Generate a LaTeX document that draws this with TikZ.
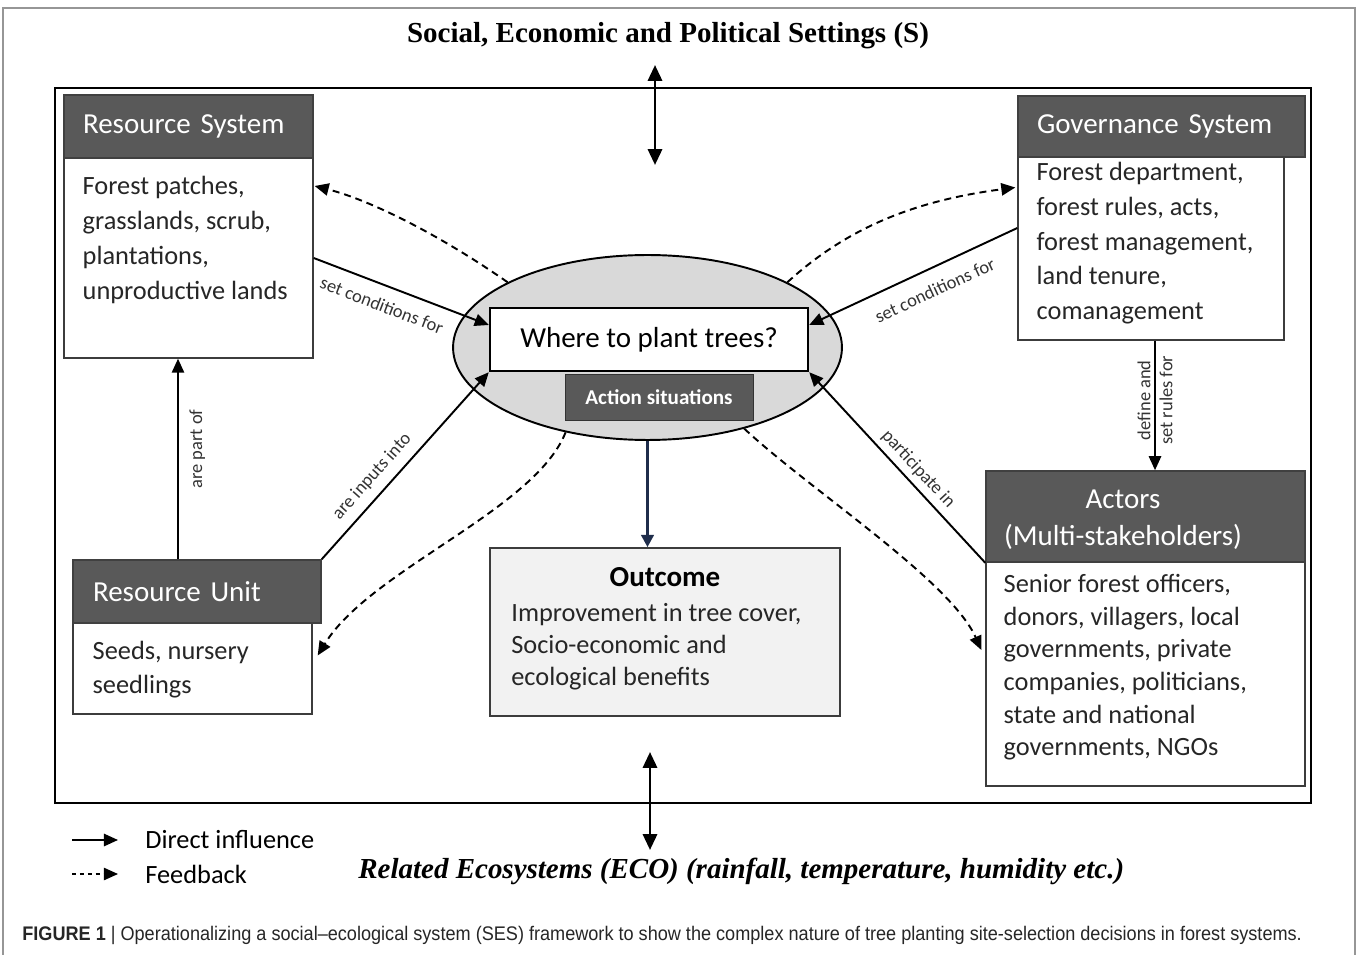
\documentclass[tikz,border=0pt]{standalone}
\usepackage{fontspec}
\setmainfont{Carlito}
\newfontfamily\serifttl{Liberation Serif}
\newfontfamily\capfont[FakeStretch=0.92]{Liberation Sans}
\usetikzlibrary{arrows.meta,shapes.geometric,positioning}

\definecolor{hdrgray}{RGB}{89,89,89}
\definecolor{ellgray}{RGB}{217,217,217}
\definecolor{outgray}{RGB}{242,242,242}
\definecolor{edgegray}{RGB}{60,60,60}
\definecolor{navy}{RGB}{31,45,75}
\definecolor{framegray}{RGB}{150,150,150}

\tikzset{
  hdr/.style={draw=black!75, fill=hdrgray, line width=0.9pt, inner sep=0pt, text=white, align=left, font=\fontsize{16.5}{20}\selectfont},
  bodybox/.style={draw=edgegray, fill=white, line width=0.8pt, inner sep=0pt},
  bodytxt/.style={anchor=north west, inner sep=0pt, align=left, text=black!85},
  infl/.style={-{Triangle[length=8pt,width=7pt]}, line width=1.1pt},
  fback/.style={infl, dash pattern=on 4pt off 2.8pt},
  lbl/.style={font=\fontsize{10.5}{12}\selectfont, text=black!80, inner sep=2pt},
}

\begin{document}
\begin{tikzpicture}[x=0.02cm, y=-0.02cm]
\useasboundingbox (0,0) rectangle (1358,955);
\draw[framegray, line width=0.6pt] (3,955) -- (3,8) -- (1355,8) -- (1355,955);

\node[font=\serifttl\bfseries\fontsize{16.5}{18}\selectfont, anchor=base, inner sep=0pt] (sett) at (668,43) {Social, Economic and Political Settings (S)};
\draw[line width=1.6pt] (55,88) rectangle (1311,803);

% resource system
\node[bodybox, minimum width=4.98cm, minimum height=4cm] (rsb) at (188.5,258) {};
\node[hdr, minimum width=4.98cm, minimum height=1.26cm, text width=4.22cm, inner xsep=0.38cm] (rsh) at (188.5,126.5) {Resource System};
\node[bodytxt, font=\fontsize{15}{19.9}\selectfont] (rst) at ([shift={(19,18.5)}]rsb.north west) {Forest patches,\\grasslands, scrub,\\plantations,\\unproductive lands};

% governance system
\node[bodybox, minimum width=5.32cm, minimum height=3.66cm] (gvb) at (1151,248.5) {};
\node[hdr, minimum width=5.74cm, minimum height=1.22cm, text width=4.98cm, inner xsep=0.38cm] (gvh) at (1161.5,126.5) {Governance System};
\node[bodytxt, font=\fontsize{15}{19.7}\selectfont] (gvt) at ([shift={(19,6)}]gvb.north west) {Forest department,\\forest rules, acts,\\forest management,\\land tenure,\\comanagement};

% action situation
\node[ellipse, draw, fill=ellgray, line width=1.1pt, minimum width=7.78cm, minimum height=3.7cm, inner sep=0pt] (ell) at (647.5,347.5) {};
\node[draw, fill=white, line width=1.4pt, minimum width=6.36cm, minimum height=1.26cm, font=\fontsize{16.5}{20}\selectfont] (q) at (649,339.5) {Where to plant trees?};
\node[draw=black!80, fill=hdrgray, text=white, minimum width=3.76cm, minimum height=0.92cm, font=\bfseries\fontsize{12}{14}\selectfont] (act) at (659,397) {Action situations};

% resource unit
\node[bodybox, minimum width=4.78cm, minimum height=1.82cm] (rub) at (192.5,668.5) {};
\node[hdr, minimum width=4.96cm, minimum height=1.26cm, text width=4.16cm, inner xsep=0.4cm] (ruh) at (197,591.5) {Resource Unit};
\node[bodytxt, font=\fontsize{15}{19.3}\selectfont] (rut) at ([shift={(20,18.5)}]rub.north west) {Seeds, nursery\\seedlings};

% outcome
\node[draw=edgegray, fill=outgray, line width=0.9pt, minimum width=7cm, minimum height=3.36cm] (out) at (665,632) {};
\node[font=\bfseries\fontsize{16.5}{20}\selectfont, anchor=base, inner sep=0pt] (outh) at (665,586) {Outcome};
\node[bodytxt, font=\fontsize{15}{18.2}\selectfont] (outt) at (511,603) {Improvement in tree cover,\\Socio-economic and\\ecological benefits};

% actors
\node[bodybox, minimum width=6.38cm, minimum height=4.48cm] (acb) at (1145.5,674) {};
\node[hdr, minimum width=6.38cm, minimum height=1.82cm] (ach) at (1145.5,516.5) {};
\node[align=center, text=white, font=\fontsize{16.5}{21}\selectfont, inner sep=0pt] (acht) at (1123,520) {Actors\\(Multi-stakeholders)};
\node[bodytxt, font=\fontsize{15}{18.6}\selectfont] (act2) at ([shift={(18,12.5)}]acb.north west) {Senior forest officers,\\donors, villagers, local\\governments, private\\companies, politicians,\\state and national\\governments, NGOs};

% direct influences
\draw[infl] (rsb.east) -- ([shift={(0,-14.5)}]q.west) node[lbl, sloped, below, inner ysep=7pt, pos=0.43] {set conditions for};
\draw[infl] ([shift={(0,-20.5)}]gvb.west) -- ([shift={(0,-14.5)}]q.east) node[lbl, sloped, below, inner ysep=8pt, pos=0.44] {set conditions for};
\draw[infl] (ruh.north east) -- (q.south west) node[lbl, sloped, above, inner ysep=5pt, pos=0.38] {are inputs into};
\draw[infl] (ach.south west) -- (q.south east) node[lbl, sloped, above, inner ysep=3pt, pos=0.44] {participate in};
\coordinate (rsp) at ([shift={(-10.5,0)}]rsb.south);
\draw[infl] (rsp |- ruh.north) -- (rsp) node[lbl, rotate=90, anchor=north, inner ysep=6pt, pos=0.55] {are part of};
\coordinate (gvp) at ([shift={(4,0)}]gvb.south);
\draw[infl] (gvp) -- (gvp |- ach.north) node[lbl, rotate=90, anchor=south, pos=0.46] {define and} node[lbl, rotate=90, anchor=north, pos=0.46] {set rules for};
\draw[-{Triangle[length=7pt,width=7pt]}, line width=2.2pt, navy] (ell.south) -- (ell.south |- out.north);

% feedbacks
\draw[fback] (ell.155) .. controls (440,235) and (370,200) .. ([shift={(1,-72)}]rsb.east);
\draw[fback] (ell.25) .. controls (850,225) and (920,200) .. ([shift={(-2,-61)}]gvb.west);
\draw[fback] (ell.226) .. controls (535,510) and (370,570) .. ([shift={(5,-13)}]rub.east);
\draw[fback] (ell.-40) .. controls (810,490) and (950,580) .. ([shift={(-4,-24)}]acb.west);

% settings and ecosystems
\coordinate (s1) at (655,65);
\coordinate (s2) at (655,165);
\draw[{Triangle[length=9pt,width=8pt]}-{Triangle[length=9pt,width=8pt]}, line width=1.6pt] (s1) -- (s2);
\coordinate (e1) at (650,752);
\coordinate (e2) at (650,850);
\draw[{Triangle[length=9pt,width=8pt]}-{Triangle[length=9pt,width=8pt]}, line width=1.6pt] (e1) -- (e2);
\node[font=\serifttl\bfseries\itshape\fontsize{16.5}{18}\selectfont, anchor=base west, inner sep=0pt] (eco) at (358,878) {Related Ecosystems (ECO) (rainfall, temperature, humidity etc.)};

% legend
\coordinate (k1) at (72,840);
\coordinate (k2) at (118,840);
\draw[infl] (k1) -- (k2);
\node[anchor=base west, inner sep=0pt, font=\fontsize{15}{18}\selectfont] (k1t) at (145,848) {Direct influence};
\coordinate (k3) at (72,874);
\coordinate (k4) at (118,874);
\draw[infl, line width=0.8pt, dash pattern=on 2.5pt off 2pt] (k3) -- (k4);
\node[anchor=base west, inner sep=0pt, font=\fontsize{15}{18}\selectfont] (k2t) at (145,883) {Feedback};

\node[anchor=base west, inner sep=0pt, text=black!85, font=\capfont\fontsize{11.2}{13}\selectfont] (cap) at (22,940) {\textbf{FIGURE 1} | Operationalizing a social\textendash ecological system (SES) framework to show the complex nature of tree planting site-selection decisions in forest systems.};
\end{tikzpicture}
\end{document}
